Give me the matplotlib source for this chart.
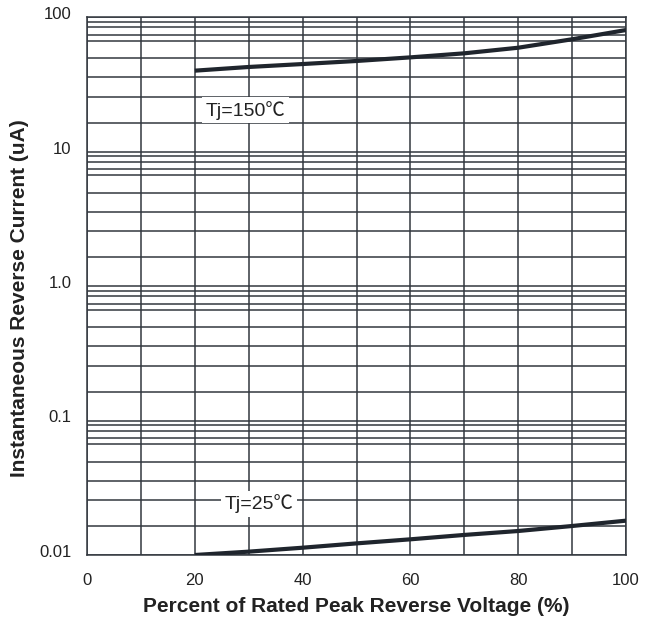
import matplotlib
matplotlib.use("Agg")
import matplotlib.pyplot as plt
import matplotlib.transforms as mtransforms
from matplotlib.ticker import FixedLocator, NullFormatter

plt.rcParams['font.family'] = ['Liberation Sans', 'DejaVu Sans']

# Data
voltage_pct = [20, 30, 40, 50, 60, 70, 80, 90, 100]
current_150 = [39.9, 42.5, 44.7, 47.1, 50.1, 53.7, 59.1, 68.3, 80.0]
current_25 = [0.0100, 0.01059, 0.01133, 0.0122, 0.01308, 0.0141, 0.01508, 0.01643, 0.0180]

x_ticks = [0, 20, 40, 60, 80, 100]
x_ticklabels = ['0', '20', '40', '60', '80', '100']
x_minor = [10, 30, 50, 70, 90]
y_ticks = [0.01, 0.1, 1, 10, 100]
y_ticklabels = ['0.01', '0.1', '1.0', '10', '100']
# minor grid multipliers as drawn in the reference (per decade)
grid_mult = [1.64, 2.56, 3.55, 4.95, 6.64, 7.41, 8.40, 9.23]
label_150 = 'Tj=150\u2103'
label_25 = 'Tj=25\u2103'
xlabel = 'Percent of Rated Peak Reverse Voltage (%)'
ylabel = 'Instantaneous Reverse Current (uA)'

grid_color = '#33383f'
line_color = '#1f252d'
text_color = '#222222'

fig = plt.figure(figsize=(6.59, 6.21), dpi=100)
ax = fig.add_axes([87/659, 1-555/621, (626-87)/659, (555-17)/621])

ax.set_yscale('log')
ax.set_xlim(0, 100)
ax.set_ylim(0.01, 100)

minor_y = [m * 10.0**e for e in range(-2, 2) for m in grid_mult]
ax.xaxis.set_major_locator(FixedLocator(x_ticks))
ax.xaxis.set_minor_locator(FixedLocator(x_minor))
ax.yaxis.set_major_locator(FixedLocator(y_ticks))
ax.yaxis.set_minor_locator(FixedLocator(minor_y))
ax.yaxis.set_minor_formatter(NullFormatter())
ax.set_xticklabels(x_ticklabels)
ax.set_yticklabels(y_ticklabels)
ax.grid(True, which='both', color=grid_color, linewidth=1.1)
ax.tick_params(which='both', length=0, labelsize=12, colors=text_color)
ax.tick_params(axis='x', pad=13)
ax.tick_params(axis='y', pad=11)
for s in ax.spines.values():
    s.set_color(grid_color)
    s.set_linewidth(1.1)
ax.set_axisbelow(True)

# y tick labels sit slightly above their grid lines in the reference
shift = mtransforms.ScaledTranslation(0, 4/100, fig.dpi_scale_trans)
for lab in ax.get_yticklabels():
    lab.set_transform(lab.get_transform() + shift)

ax.plot(voltage_pct, current_150, color=line_color, linewidth=3.0, solid_capstyle='butt', zorder=5)
ax.plot(voltage_pct, current_25, color=line_color, linewidth=3.0, solid_capstyle='butt', zorder=5)

fam = ['Liberation Sans', 'Noto Sans CJK SC', 'DejaVu Sans']
bbox = dict(facecolor='white', edgecolor='none', pad=2.5)
ax.text(22.0, 18.4, label_150, fontsize=14, family=fam, color=text_color,
        va='baseline', ha='left', bbox=bbox, zorder=6)
ax.text(25.6, 0.0219, label_25, fontsize=14, family=fam, color=text_color,
        va='baseline', ha='left', bbox=bbox, zorder=6)

ax.set_xlabel(xlabel, fontsize=15, fontweight='bold', color=text_color)
ax.set_ylabel(ylabel, fontsize=15, fontweight='bold', color=text_color)
ax.xaxis.set_label_coords(0.5, -(611.7 - 555) / 538, transform=ax.transAxes)
ax.xaxis.label.set_va('baseline')
ax.yaxis.set_label_coords(-(87 - 20) / 539, (555 - 298) / 538, transform=ax.transAxes)
ax.yaxis.label.set_va('center')

fig.savefig('out.png', dpi=100)
